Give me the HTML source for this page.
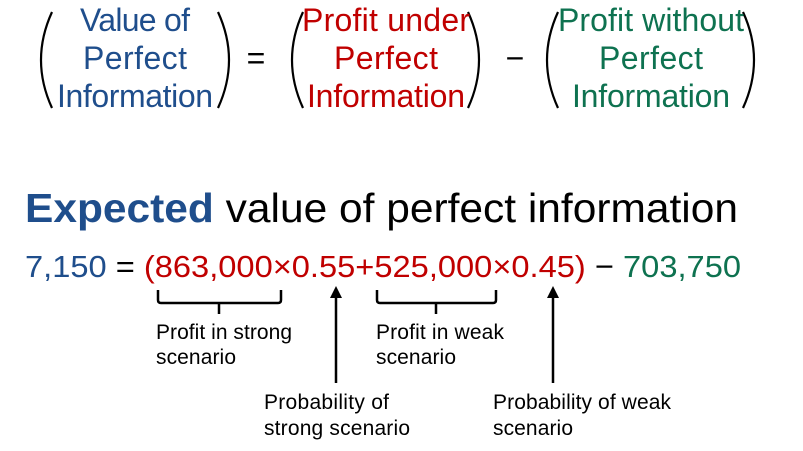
<!DOCTYPE html>
<html><head><meta charset="utf-8"><style>body{margin:0;background:#fff}svg{display:block}</style></head><body>
<svg width="803" height="451" xmlns="http://www.w3.org/2000/svg" font-family="Liberation Sans, sans-serif">
<g fill="none" stroke="#000" stroke-width="2.2">
<path d="M52 12 Q30 60 52 108"/><path d="M218 12 Q240 60 218 108"/>
<path d="M303 12 Q281 60 303 108"/><path d="M468 12 Q490 60 468 108"/>
<path d="M558 12 Q536 60 558 108"/><path d="M743 12 Q765 60 743 108"/>
</g>
<g font-size="32" text-anchor="middle" lengthAdjust="spacingAndGlyphs">
<g fill="#1f4e8c"><text x="135" y="31" textLength="110">Value of</text><text x="135" y="69" textLength="104">Perfect</text><text x="135" y="107" textLength="156">Information</text></g>
<g fill="#c00000"><text x="386" y="31" textLength="168">Profit under</text><text x="386" y="69" textLength="104">Perfect</text><text x="386" y="107" textLength="158">Information</text></g>
<g fill="#0e7250"><text x="651" y="31" textLength="186">Profit without</text><text x="651" y="69" textLength="104">Perfect</text><text x="651" y="107" textLength="158">Information</text></g>
<text x="256" y="69" fill="#000">=</text><text x="515" y="69" fill="#000">−</text>
</g>
<text x="25" y="222" font-size="41" fill="#000" textLength="713" lengthAdjust="spacingAndGlyphs"><tspan fill="#1f4e8c" font-weight="bold">Expected</tspan> value of perfect information</text>
<text x="25" y="277" font-size="31" textLength="716" lengthAdjust="spacingAndGlyphs"><tspan fill="#1f4e8c">7,150</tspan><tspan fill="#000"> = </tspan><tspan fill="#c00000">(863,000×0.55+525,000×0.45)</tspan><tspan fill="#000"> − </tspan><tspan fill="#0e7250">703,750</tspan></text>
<g fill="none" stroke="#000" stroke-width="2.5">
<path d="M158 290 V300 Q158 303 161 303 H278 Q281 303 281 300 V290 M219 303 V314"/>
<path d="M377 290 V300 Q377 303 380 303 H493 Q496 303 496 300 V290 M436 303 V314"/>
<path d="M336 296 V383 M553 296 V383"/>
</g>
<path d="M330 298 L336 286 L342 298 Z M547 298 L553 286 L559 298 Z" fill="#000"/>
<g font-size="21" fill="#000" lengthAdjust="spacingAndGlyphs">
<text x="156" y="339" textLength="136">Profit in strong</text><text x="156" y="364" textLength="80">scenario</text>
<text x="376" y="339" textLength="128">Profit in weak</text><text x="376" y="364" textLength="80">scenario</text>
<text x="264" y="409" textLength="125">Probability of</text><text x="264" y="435" textLength="146">strong scenario</text>
<text x="493" y="409" textLength="178">Probability of weak</text><text x="493" y="435" textLength="80">scenario</text>
</g>
</svg>
</body></html>
